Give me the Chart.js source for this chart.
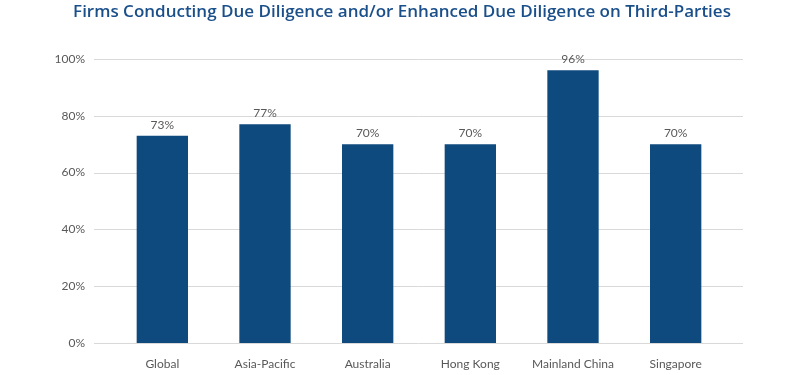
<!DOCTYPE html>
<html>
<head>
<meta charset="utf-8">
<script src="https://cdn.jsdelivr.net/npm/chart.js@4.4.1/dist/chart.umd.min.js"></script>
<style>
  html, body { margin: 0; padding: 0; background: #fff; }
  #wrap { width: 800px; height: 375px; position: relative; }
</style>
</head>
<body>
<div id="wrap"><canvas id="chart"></canvas></div>
<script>
const chartTitle = 'Firms Conducting Due Diligence and/or Enhanced Due Diligence on Third-Parties';
const categories = ['Global', 'Asia-Pacific', 'Australia', 'Hong Kong', 'Mainland China', 'Singapore'];
const shares = [0.73, 0.77, 0.70, 0.70, 0.96, 0.70];
const tickValues = [0, 0.2, 0.4, 0.6, 0.8, 1.0];

const barColor = '#0f4a7e';
const textColor = '#595959';
const gridColor = '#d9d9d9';

// title centred on the whole canvas, not on the chart area
const pageTitle = {
    id: 'pageTitle',
    afterDraw(chart) {
        const ctx = chart.ctx;
        ctx.save();
        ctx.font = '600 17px "Open Sans", sans-serif';
        ctx.fillStyle = '#1a4f8a';
        ctx.textAlign = 'center';
        ctx.textBaseline = 'middle';
        ctx.fillText(chartTitle, 402, 12);
        ctx.restore();
    }
};

// horizontal grid a little wider than the chart area, like the original
const wideGrid = {
    id: 'wideGrid',
    beforeDatasetsDraw(chart) {
        const ctx = chart.ctx;
        const y = chart.scales.y;
        const area = chart.chartArea;
        ctx.save();
        ctx.strokeStyle = gridColor;
        ctx.lineWidth = 1;
        tickValues.forEach(v => {
            const py = Math.round(y.getPixelForValue(v)) + 0.5;
            ctx.beginPath();
            ctx.moveTo(area.left - 17, py);
            ctx.lineTo(area.right + 16, py);
            ctx.stroke();
        });
        ctx.restore();
    }
};

// value labels above each bar
const barLabels = {
    id: 'barLabels',
    afterDatasetsDraw(chart) {
        const ctx = chart.ctx;
        const meta = chart.getDatasetMeta(0);
        ctx.save();
        ctx.font = '12px Lato, "Open Sans", sans-serif';
        ctx.fillStyle = textColor;
        ctx.textAlign = 'center';
        ctx.textBaseline = 'middle';
        meta.data.forEach((bar, i) => {
            ctx.fillText(Math.round(shares[i] * 100) + '%', bar.x, bar.y - 11);
        });
        ctx.restore();
    }
};

new Chart(document.getElementById('chart'), {
    type: 'bar',
    data: {
        labels: categories,
        datasets: [{
            data: shares,
            backgroundColor: barColor,
            borderWidth: 0,
            barPercentage: 0.5,
            categoryPercentage: 1.0
        }]
    },
    options: {
        responsive: true,
        maintainAspectRatio: false,
        animation: false,
        layout: { padding: { top: 59, right: 73, bottom: 0, left: 0 } },
        plugins: {
            legend: { display: false },
            tooltip: { enabled: false },
            title: { display: false }
        },
        scales: {
            x: {
                grid: { display: false },
                border: { display: false },
                ticks: {
                    color: textColor,
                    font: { family: 'Lato, "Open Sans", sans-serif', size: 12 },
                    padding: 6,
                    maxRotation: 0
                },
                afterFit(scale) { scale.height = 32; }
            },
            y: {
                min: 0,
                max: 1,
                grid: { display: false },
                border: { display: false },
                afterBuildTicks(scale) { scale.ticks = tickValues.map(v => ({ value: v })); },
                ticks: {
                    color: textColor,
                    font: { family: 'Lato, "Open Sans", sans-serif', size: 12 },
                    padding: 18,
                    callback: v => Math.round(v * 100) + '%'
                },
                afterFit(scale) { scale.width = 111; }
            }
        }
    },
    plugins: [wideGrid, barLabels, pageTitle]
});
</script>
</body>
</html>
